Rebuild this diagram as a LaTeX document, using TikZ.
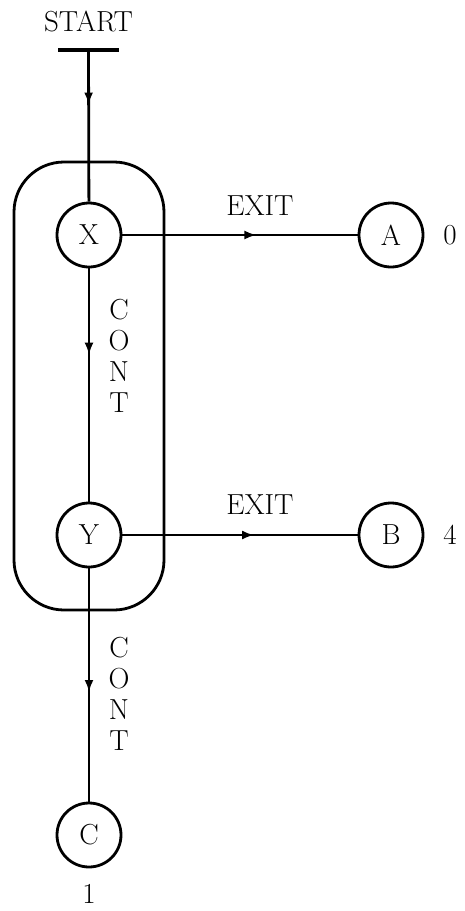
\documentclass[tikz,border=0pt]{standalone}
\usetikzlibrary{decorations.markings,arrows.meta}
\begin{document}
\begin{tikzpicture}[x=1pt,y=-1pt,
  every node/.style={font=\fontsize{29}{31}\selectfont},
  state/.style={circle,draw,line width=2.8pt,minimum size=64pt,inner sep=0pt},
  lbl/.style={inner sep=0pt},
  conn/.style={line width=2.8pt},
  midarrow/.style={postaction={decorate},decoration={markings,mark=at position #1 with {\arrow{Latex[length=12pt,width=9pt]}}}},
]
\useasboundingbox (0,0) rectangle (464,911);
% group box
\draw[line width=2.8pt,rounded corners=50pt] (14,162) rectangle (164,610);
% start
\node[lbl] (start) at (88.5,21) {START};
\coordinate (s) at (88.5,50);
\draw[line width=3.5pt] ([xshift=-30.5pt]s) -- ([xshift=30.5pt]s);
% states
\node[state] (X) at (89,235) {X};
\node[state] (Y) at (89,535) {Y};
\node[state] (C) at (89,835) {C};
\node[state] (A) at (391,235) {A};
\node[state] (B) at (391,535) {B};
% values
\node[lbl] (v0) at (450,235) {0};
\node[lbl] (v4) at (450,535) {4};
\node[lbl] (v1) at (89,894) {1};
% connectors
\draw[conn,midarrow=0.36] (s) -- (X);
\draw[conn,midarrow=0.37] (X) -- (Y);
\draw[conn,midarrow=0.53] (Y) -- (C);
\draw[conn,midarrow=0.57] (X) -- (A);
\draw[conn,midarrow=0.56] (Y) -- (B);
% labels
\node[lbl] (e1) at (260,206) {EXIT};
\node[lbl] (e2) at (260,505) {EXIT};
\node[lbl,align=center] (c1) at (119,356) {C\\O\\N\\T};
\node[lbl,align=center] (c2) at (119,694) {C\\O\\N\\T};
\end{tikzpicture}
\end{document}
